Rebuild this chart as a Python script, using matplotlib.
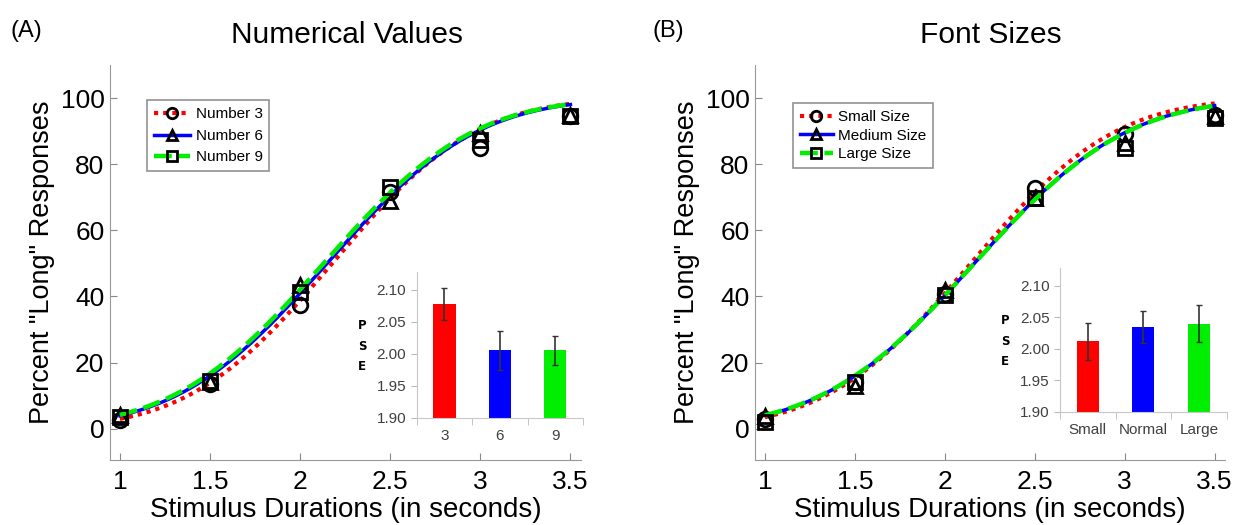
import math
import numpy as np
import matplotlib
matplotlib.use("Agg")
import matplotlib.pyplot as plt

plt.rcParams["font.family"] = ["Liberation Sans", "DejaVu Sans"]

durations = [1.0, 1.5, 2.0, 2.5, 3.0, 3.5]
dur_labels = ["1", "1.5", "2", "2.5", "3", "3.5"]

# panel A - observed percent "long" responses
num3_obs = [2.5, 13.5, 37.5, 71.5, 85.0, 94.5]
num6_obs = [4.0, 14.0, 43.5, 69.0, 89.5, 95.0]
num9_obs = [3.5, 14.5, 41.5, 73.0, 87.5, 94.5]
# fitted cumulative-normal curves (mean, sd)
num_mu = [2.177, 2.149, 2.13]
num_sd = [0.623, 0.652, 0.652]
num_labels = ["Number 3", "Number 6", "Number 9"]
num_pse = [2.078, 2.005, 2.005]
num_err = [0.025, 0.031, 0.023]
num_cats = ["3", "6", "9"]

# panel B
small_obs = [2.8, 14.0, 40.6, 72.8, 89.3, 94.8]
medium_obs = [3.7, 12.8, 42.0, 69.7, 86.5, 94.5]
large_obs = [2.0, 14.0, 40.5, 69.7, 85.0, 94.0]
size_mu = [2.144, 2.164, 2.164]
size_sd = [0.63, 0.665, 0.667]
size_labels = ["Small Size", "Medium Size", "Large Size"]
size_pse = [2.012, 2.035, 2.040]
size_err = [0.029, 0.025, 0.029]
size_cats = ["Small", "Normal", "Large"]

colors = ["#ff0000", "#0000ff", "#00ee00"]
markers = ["o", "^", "s"]
styles = [(0, (1, 1.2)), "-", (0, (4, 1.5))]
widths = [3.0, 2.5, 3.2]


def cum_normal(x, mu, sd):
    return np.array([50 * (1 + math.erf((v - mu) / (sd * math.sqrt(2)))) for v in x])


def draw_panel(ax, obs_sets, mus, sds, labels, leg_anchor, leg_spacing, handle_len):
    xs = np.linspace(1.0, 3.5, 200)
    handles = []
    for obs, mu, sd, lab, c, m, ls, lw in zip(obs_sets, mus, sds, labels,
                                             colors, markers, styles, widths):
        ax.plot(xs, cum_normal(xs, mu, sd), color=c, linestyle=ls, linewidth=lw)
        ax.plot(durations, obs, linestyle="none", marker=m, markersize=10.5,
                markerfacecolor="none", markeredgecolor="black", markeredgewidth=2)
        h, = ax.plot([], [], color=c, linestyle=ls, linewidth=lw, marker=m,
                     markersize=7.5, markerfacecolor="none",
                     markeredgecolor="black", markeredgewidth=2)
        handles.append(h)

    ax.set_xlim(0.945, 3.56)
    ax.set_ylim(-9.5, 110)
    ax.set_xticks(durations)
    ax.set_xticklabels(dur_labels)
    ax.set_yticks([0, 20, 40, 60, 80, 100])
    ax.tick_params(direction="in", labelsize=19, length=5, color="#888888")
    ax.tick_params(axis="x", pad=7)
    ax.tick_params(axis="y", pad=4)
    for side in ["top", "right"]:
        ax.spines[side].set_visible(False)
    for side in ["left", "bottom"]:
        ax.spines[side].set_color("#999999")
    ax.set_xlabel("Stimulus Durations (in seconds)", fontsize=20, labelpad=2)
    ax.set_ylabel('Percent "Long" Responses', fontsize=19.5, labelpad=4)

    leg = ax.legend(handles, labels, loc="upper left", bbox_to_anchor=leg_anchor,
                    fontsize=11, handlelength=handle_len, handletextpad=0.35,
                    borderpad=0.45, labelspacing=leg_spacing, borderaxespad=0,
                    fancybox=False)
    leg.get_frame().set_edgecolor("#777777")
    leg.get_frame().set_linewidth(1.2)


def draw_inset(ax, cats, pse, err):
    pos = np.arange(len(cats))
    ax.bar(pos, [p - 1.9 for p in pse], bottom=1.9, width=0.4, color=colors,
           yerr=err, error_kw=dict(ecolor="#333333", elinewidth=1.2, capsize=2))
    ax.set_xlim(-0.5, len(cats) - 0.5)
    ax.set_ylim(1.9, 2.128)
    ax.set_yticks([1.90, 1.95, 2.00, 2.05, 2.10])
    ax.set_yticklabels(["1.90", "1.95", "2.00", "2.05", "2.10"])
    ax.set_xticks(pos)
    ax.set_xticklabels(cats)
    ax.set_xticks([-0.5, 0.5, 1.5, 2.5], minor=True)
    ax.tick_params(axis="x", which="major", length=0, pad=8)
    ax.tick_params(axis="x", which="minor", length=5, direction="out", color="#bbbbbb")
    ax.tick_params(axis="y", length=4, direction="out", color="#bbbbbb")
    ax.tick_params(labelsize=11, labelcolor="#404040")
    for side in ["top", "right"]:
        ax.spines[side].set_visible(False)
    for side in ["left", "bottom"]:
        ax.spines[side].set_color("#c8c8c8")
    ax.text(-0.33, 0.49, "P\nS\nE", transform=ax.transAxes, fontsize=8.5,
            fontweight="bold", ha="center", va="center", linespacing=1.75,
            family="DejaVu Sans")
    ax.patch.set_alpha(0)


fig = plt.figure(figsize=(12.37, 5.25), dpi=100)
ax_a = fig.add_axes([0.0889, 0.1238, 0.381, 0.752])
ax_b = fig.add_axes([0.6103, 0.1238, 0.3804, 0.752])

draw_panel(ax_a, [num3_obs, num6_obs, num9_obs], num_mu, num_sd, num_labels,
           (0.078, 0.911), 0.5, 2.4)
draw_panel(ax_b, [small_obs, medium_obs, large_obs], size_mu, size_sd, size_labels,
           (0.081, 0.904), 0.3, 2.15)

fig.text(347 / 1237, 0.918, "Numerical Values", fontsize=21.5, ha="center", va="baseline")
fig.text(990.5 / 1237, 0.918, "Font Sizes", fontsize=21.5, ha="center", va="baseline")
fig.text(10 / 1237, 0.9295, "(A)", fontsize=17, ha="left", va="baseline")
fig.text(653 / 1237, 0.9295, "(B)", fontsize=17, ha="left", va="baseline")

in_a = fig.add_axes([0.3369, 0.2044, 0.1344, 0.278])
in_b = fig.add_axes([0.8569, 0.2158, 0.1348, 0.273])
draw_inset(in_a, num_cats, num_pse, num_err)
draw_inset(in_b, size_cats, size_pse, size_err)

fig.savefig("out.png", dpi=100)
